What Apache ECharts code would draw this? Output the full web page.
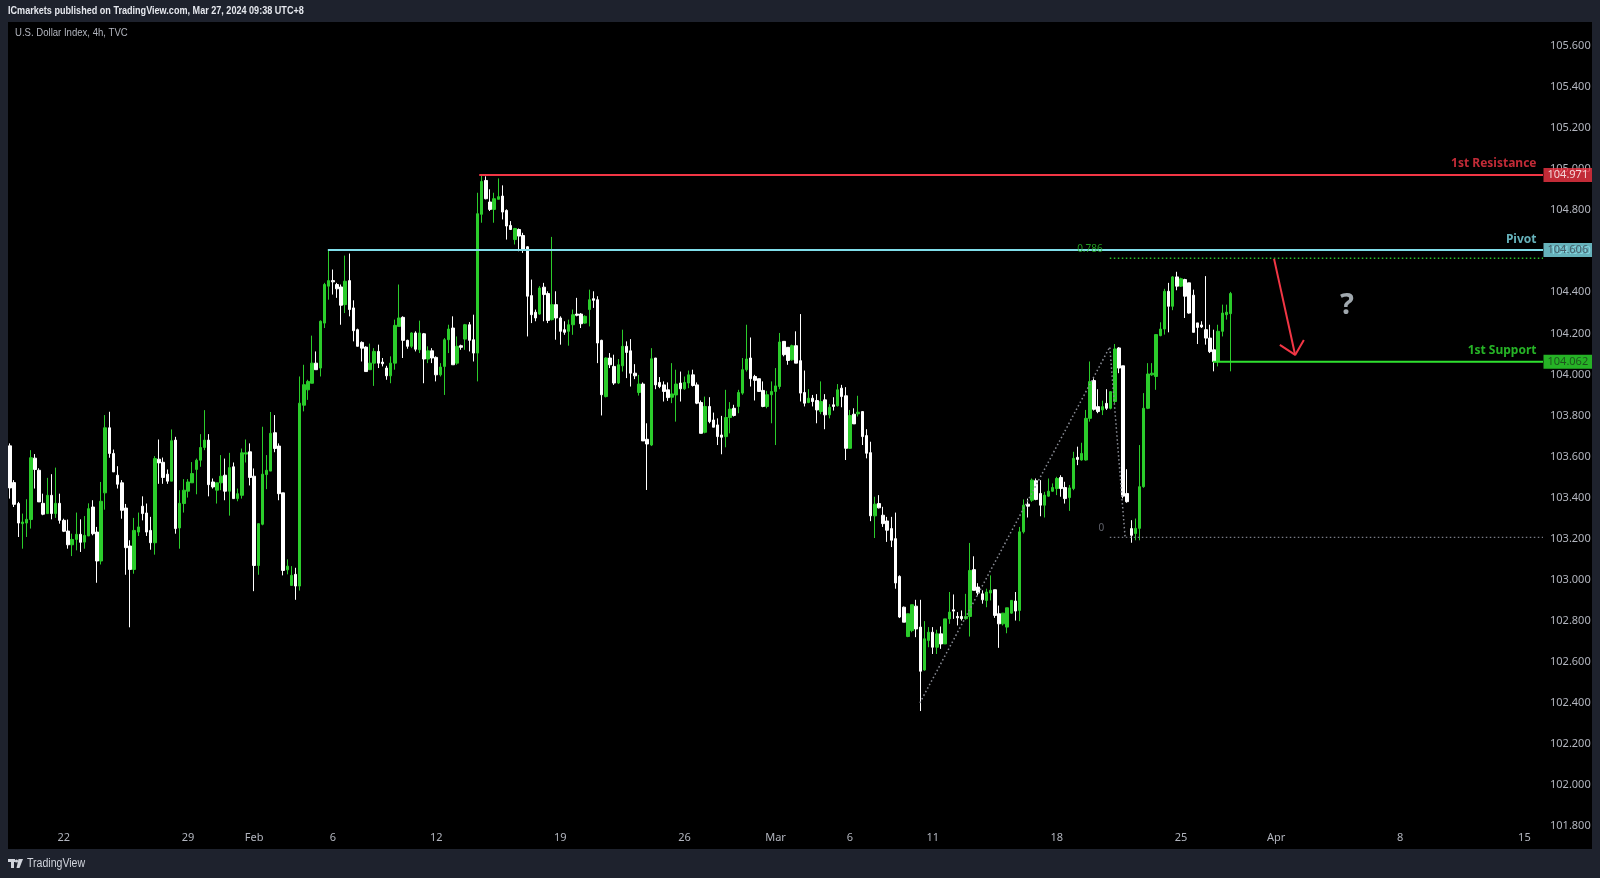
<!DOCTYPE html>
<html><head><meta charset="utf-8">
<script src="https://cdn.jsdelivr.net/npm/echarts@6/dist/echarts.min.js"></script>
<style>html,body{margin:0;padding:0;background:#1e222d}#c{width:1600px;height:878px}</style>
</head><body><div id="c"></div>
<script>
// ---- DATA (U.S. Dollar Index, 4h bars) ----
const open = [
103.652,103.473,103.371,103.273,103.276,103.293,103.592,103.533,103.372,103.322,
103.411,103.322,103.372,103.289,103.237,103.170,103.196,103.221,103.183,103.213,
103.354,103.232,103.091,103.423,103.740,103.615,103.509,103.472,103.349,103.164,
103.050,103.232,103.358,103.325,103.240,103.180,103.587,103.572,103.514,103.480,
103.680,103.252,103.371,103.431,103.472,
103.537,103.582,103.644,103.680,103.476,103.436,103.472,103.509,103.431,103.550,
103.395,103.411,103.612,103.623,103.504,103.069,103.270,103.512,103.529,103.716,
103.651,103.423,103.048,102.972,103.026,102.969,
103.850,103.925,103.957,104.055,104.031,104.250,104.430,104.457,
104.438,104.426,104.340,104.457,104.324,104.218,104.156,104.133,104.023,104.055,
104.112,104.060,104.031,103.993,104.055,104.234,104.278,104.166,104.137,104.202,
104.120,104.198,104.075,104.115,104.083,103.998,104.039,104.169,104.226,104.055,
104.140,104.172,104.242,104.169,104.104,
104.780,104.945,104.840,104.804,104.853,104.869,104.799,104.726,104.657,104.706,
104.677,104.622,104.384,104.303,104.294,104.425,104.394,104.267,104.340,
104.275,104.218,104.210,104.242,104.294,104.294,104.250,104.316,104.369,104.364,
104.166,103.892,104.080,104.039,103.958,104.042,104.137,104.115,104.006,103.912,
103.953,103.684,103.656,104.080,103.961,103.949,103.925,103.889,103.900,103.958,
103.930,103.958,103.998,103.949,103.863,103.718,103.844,
103.778,103.754,103.705,103.697,103.790,103.835,103.844,103.909,104.023,104.080,
103.990,103.979,103.922,103.844,103.901,103.917,103.941,104.161,104.132,104.071,
104.140,104.067,103.912,103.863,
103.884,103.873,103.819,103.876,103.803,
103.852,103.847,103.933,103.896,103.640,103.806,103.808,103.819,103.702,103.619,
103.311,103.371,103.314,103.286,103.249,103.200,103.016,102.866,102.723,102.752,
102.871,102.769,102.560,102.704,102.744,102.671,102.736,102.687,102.809,102.853,
102.821,102.821,102.810,102.821,103.049,102.964,102.931,102.899,102.935,102.951,
102.834,102.785,102.769,102.837,102.896,102.850,103.233,103.368,103.387,103.482,
103.420,103.363,103.407,103.431,103.444,103.498,103.449,103.400,103.444,103.596,
103.583,103.583,103.786,103.970,103.843,103.827,103.859,103.835,103.868,104.129,
104.042,103.420,103.249,103.225,103.250,103.453,103.835,103.998,103.990,104.189,
104.221,104.405,104.332,104.475,104.430,104.462,104.446,104.386,104.251,104.241,
104.218,104.177,104.120,104.063,104.210,104.291,104.296
];
const close = [
103.447,103.367,103.276,103.281,103.294,103.594,103.537,103.379,103.319,103.411,
103.322,103.372,103.289,103.236,103.170,103.196,103.221,103.182,103.216,103.346,
103.224,103.091,103.382,103.740,103.615,103.525,103.465,103.338,103.156,103.050,
103.240,103.257,103.322,103.232,103.180,103.590,103.569,103.498,103.480,103.677,
103.249,103.372,103.436,103.476,103.517,
103.582,103.644,103.680,103.463,103.452,103.472,103.504,103.431,103.546,103.395,
103.419,103.618,103.618,103.498,103.069,103.273,103.514,103.533,103.713,103.639,
103.419,103.045,103.066,103.021,102.969,103.860,
103.950,103.966,104.055,104.023,104.259,104.438,104.457,104.451,
104.417,104.337,104.454,104.316,104.213,104.137,104.128,104.014,104.055,104.112,
104.055,104.052,103.993,104.055,104.239,104.275,104.166,104.137,104.202,104.123,
104.202,104.075,104.115,104.080,103.998,104.036,104.169,104.221,104.047,104.137,
104.132,104.242,104.166,104.104,104.783,
104.940,104.856,104.804,104.856,104.866,104.791,104.723,104.706,104.711,104.674,
104.609,104.381,104.291,104.275,104.421,104.389,104.263,104.340,104.275,
104.210,104.205,104.242,104.291,104.288,104.247,104.283,104.364,104.361,104.153,
103.901,104.080,104.047,103.958,104.047,104.137,104.107,104.006,103.993,103.953,
103.676,103.661,104.076,103.949,103.941,103.917,103.887,103.905,103.953,103.930,
103.961,103.998,103.946,103.860,103.713,103.844,103.770,
103.743,103.697,103.694,103.790,103.831,103.800,103.912,104.023,104.075,103.979,
103.971,103.917,103.844,103.901,103.917,103.944,104.158,104.096,104.068,104.140,
104.055,103.909,103.860,103.884,
103.868,103.827,103.868,103.803,103.840,
103.844,103.925,103.892,103.640,103.800,103.759,103.816,103.697,103.616,103.311,
103.368,103.350,103.273,103.241,103.192,102.984,102.818,102.793,102.834,102.878,
102.760,102.554,102.712,102.744,102.671,102.736,102.687,102.809,102.842,102.847,
102.814,102.810,102.821,103.045,102.948,102.935,102.902,102.940,102.948,102.826,
102.785,102.837,102.863,102.899,102.847,103.233,103.363,103.358,103.485,103.391,
103.363,103.412,103.431,103.449,103.493,103.444,103.395,103.447,103.591,103.586,
103.615,103.786,103.965,103.830,103.819,103.843,103.835,103.916,104.124,104.031,
103.407,103.380,103.216,103.250,103.453,103.835,104.002,104.006,104.194,104.221,
104.405,104.332,104.475,104.430,104.466,104.381,104.299,104.205,104.229,104.231,
104.177,104.111,104.063,104.210,104.299,104.303,104.394
];
const low = [
103.395,103.354,103.208,103.151,103.208,103.249,103.444,103.379,103.314,103.322,
103.294,103.301,103.273,103.232,103.151,103.115,103.143,103.135,103.151,103.213,
103.216,102.985,103.074,103.341,103.594,103.525,103.444,103.297,103.024,102.768,
103.029,103.213,103.289,103.213,103.146,103.122,103.467,103.467,103.467,103.480,
103.224,103.151,103.327,103.400,103.472,
103.416,103.550,103.631,103.406,103.444,103.371,103.436,103.387,103.312,103.395,
103.382,103.395,103.571,103.459,102.944,103.024,103.265,103.441,103.529,103.621,
103.387,103.021,103.026,102.972,102.902,102.947,
103.820,103.876,103.957,104.023,103.990,104.226,104.364,104.389,
104.373,104.242,104.299,104.283,104.161,104.137,104.063,104.014,104.023,103.944,
104.031,104.039,103.974,103.957,104.023,104.234,104.080,104.125,104.128,104.112,
104.104,103.957,104.055,104.055,103.966,103.990,103.900,104.104,104.047,104.047,
104.120,104.120,104.112,104.063,103.966,
104.739,104.853,104.796,104.739,104.853,104.755,104.657,104.706,104.633,104.600,
104.592,104.185,104.250,104.259,104.291,104.259,104.250,104.263,104.169,
104.145,104.193,104.140,104.193,104.283,104.226,104.247,104.234,104.324,104.055,
103.800,103.888,104.031,103.949,103.953,104.014,103.982,103.941,103.977,103.897,
103.676,103.437,103.651,103.928,103.933,103.868,103.871,103.860,103.770,103.868,
103.925,103.933,103.941,103.855,103.713,103.713,103.762,
103.743,103.656,103.611,103.645,103.713,103.795,103.811,103.901,104.014,103.941,
103.873,103.917,103.840,103.835,103.762,103.656,103.928,104.088,104.047,104.067,
104.055,103.868,103.844,103.860,
103.844,103.762,103.806,103.733,103.786,
103.824,103.844,103.840,103.583,103.637,103.759,103.795,103.656,103.591,103.285,
103.203,103.347,103.257,103.184,103.159,102.956,102.813,102.793,102.720,102.744,
102.720,102.360,102.557,102.671,102.638,102.638,102.663,102.687,102.785,102.809,
102.777,102.801,102.805,102.723,102.948,102.923,102.883,102.866,102.899,102.814,
102.668,102.777,102.739,102.834,102.801,102.798,103.225,103.303,103.379,103.387,
103.309,103.303,103.404,103.428,103.412,103.404,103.371,103.335,103.436,103.558,
103.580,103.580,103.770,103.824,103.811,103.802,103.827,103.830,103.860,104.006,
103.396,103.375,103.180,103.192,103.192,103.448,103.831,103.993,103.925,104.186,
104.194,104.205,104.313,104.410,104.426,104.275,104.296,104.205,104.148,104.226,
104.145,104.104,104.015,104.039,104.185,104.267,104.015
];
const high = [
103.664,103.485,103.379,103.322,103.392,103.631,103.612,103.543,103.419,103.496,
103.514,103.546,103.419,103.297,103.293,103.224,103.327,103.294,103.310,103.372,
103.387,103.257,103.476,103.802,103.818,103.634,103.553,103.485,103.369,103.192,
103.301,103.327,103.406,103.371,103.306,103.602,103.683,103.595,103.537,103.732,
103.696,103.436,103.490,103.490,103.573,
103.590,103.709,103.826,103.709,103.493,103.472,103.607,103.590,103.618,103.571,
103.444,103.639,103.683,103.664,103.542,103.273,103.745,103.607,103.817,103.802,
103.664,103.423,103.099,103.066,103.058,103.990,
104.047,103.974,104.189,104.112,104.263,104.446,104.606,104.511,
104.446,104.438,104.579,104.589,104.361,104.223,104.161,104.137,104.150,104.128,
104.145,104.080,104.042,104.088,104.267,104.438,104.283,104.169,104.205,104.210,
104.262,104.202,104.137,104.128,104.088,104.055,104.177,104.242,104.283,104.185,
104.145,104.246,104.255,104.291,104.885,
104.971,104.965,104.902,104.885,104.955,104.921,104.804,104.747,104.714,104.711,
104.690,104.625,104.462,104.316,104.430,104.446,104.405,104.670,104.405,
104.283,104.259,104.267,104.316,104.373,104.299,104.288,104.413,104.405,104.381,
104.169,104.083,104.104,104.096,104.075,104.218,104.161,104.172,104.050,103.998,
103.961,103.762,104.128,104.080,103.987,103.966,103.961,104.055,104.023,104.014,
103.990,104.019,104.023,103.961,103.873,103.892,103.889,
103.814,103.786,103.798,103.925,103.865,103.852,103.925,104.080,104.242,104.180,
103.998,103.979,103.966,103.920,103.966,104.031,104.202,104.161,104.133,104.145,
104.210,104.294,104.019,103.928,
103.900,103.904,103.966,103.904,103.855,
103.889,103.953,103.949,103.938,103.827,103.835,103.896,103.819,103.733,103.672,
103.404,103.412,103.355,103.306,103.306,103.327,103.021,102.869,102.834,102.878,
102.902,102.902,102.798,102.769,102.769,102.756,102.772,102.809,102.940,102.928,
102.842,102.850,102.931,103.179,103.114,102.983,102.948,102.956,103.021,102.951,
102.874,102.837,102.863,102.899,102.940,103.257,103.391,103.395,103.493,103.493,
103.485,103.428,103.493,103.469,103.501,103.509,103.477,103.461,103.623,103.648,
103.667,103.827,104.063,103.981,103.928,103.872,103.928,103.916,104.148,104.133,
104.042,103.538,103.290,103.298,103.656,103.909,104.055,104.055,104.194,104.254,
104.417,104.446,104.479,104.500,104.471,104.466,104.446,104.413,104.251,104.259,
104.479,104.242,104.218,104.242,104.340,104.340,104.402
];

// time-axis tick labels (bar slot index -> text)
const tickIdx  = [13, 43, 59, 78, 103, 133, 163, 185, 203, 223, 253, 283, 306, 336, 366];
const tickText = ['22','29','Feb','6','12','19','26','Mar','6','11','18','25','Apr','8','15'];
const slotCount = 371;               // bars + empty future slots shown on the axis

// horizontal levels
const levelNames  = ['1st Resistance', 'Pivot', '1st Support'];
const levelPrices = [104.971, 104.606, 104.062];
const levelStart  = [113.4, 76.8, 290.7];   // bar index where each line begins

// fibonacci extension drawing
const fibLevels = [0.786, 0];
const fibPrices = [104.566, 103.206];
const fibStart  = 265.8;
const fibPathX  = [219.9, 265.8, 269.5];
const fibPathY  = [102.40, 104.134, 103.206];

// projected move arrow and question mark
const arrowX = [305.5, 310.6];
const arrowY = [104.563, 104.095];
const arrowHeadX = [306.9, 310.6, 312.7];
const arrowHeadY = [104.144, 104.095, 104.168];
const questionAt = [323.1, 104.334];

// ---- CHART ----
const candles = open.map((o, i) => {
  const c = close[i];
  return [o, c, Math.min(low[i], o, c), Math.max(high[i], o, c)];
});
const cats = Array.from({length: slotCount}, (_, i) => String(i));
const tickMap = new Map(tickIdx.map((k, j) => [k, tickText[j]]));
const rightEdge = slotCount - 0.5;

const RED = '#f23645', CYAN = '#80deea', GREEN = '#2fe02f';
const levelColors = [RED, CYAN, GREEN];
const boxText = ['#ffffff', '#3d4a55', '#1d3b1d'];
const FONT = '"Noto Sans", "Liberation Sans", sans-serif';

const series = [{
  type: 'candlestick',
  data: candles,
  barWidth: 3,
  z: 2,
  itemStyle: {
    color: '#2bcc2b', color0: '#ffffff',
    borderColor: '#2bcc2b', borderColor0: '#ffffff', borderWidth: 1
  }
}];

levelPrices.forEach((p, k) => {
  series.push({
    type: 'line', xAxisIndex: 1, symbol: 'none', silent: true, z: 4,
    data: [[levelStart[k], p], [rightEdge, p]],
    lineStyle: {color: levelColors[k], width: 2}
  });
});

// fib extension lines
series.push({
  type: 'line', xAxisIndex: 1, symbol: 'none', silent: true, z: 3,
  data: [[fibStart, fibPrices[0]], [rightEdge, fibPrices[0]]],
  lineStyle: {color: '#29c029', width: 1.5, type: [1.5, 2.5]}
});
series.push({
  type: 'line', xAxisIndex: 1, symbol: 'none', silent: true, z: 3,
  data: [[fibStart, fibPrices[1]], [rightEdge, fibPrices[1]]],
  lineStyle: {color: '#787b86', width: 1.2, type: [1.5, 2.5]}
});
series.push({
  type: 'line', xAxisIndex: 1, symbol: 'none', silent: true, z: 3,
  data: fibPathX.map((x, i) => [x, fibPathY[i]]),
  lineStyle: {color: '#8a8d96', width: 1.5, type: [1.5, 2.5]}
});

// arrow
series.push({
  type: 'line', xAxisIndex: 1, symbol: 'none', silent: true, z: 5,
  data: arrowX.map((x, i) => [x, arrowY[i]]),
  lineStyle: {color: RED, width: 2}
});
series.push({
  type: 'line', xAxisIndex: 1, symbol: 'none', silent: true, z: 5,
  data: arrowHeadX.map((x, i) => [x, arrowHeadY[i]]),
  lineStyle: {color: RED, width: 2}
});

// text labels (anchored in data space)
const labelData = [];
const nameAnchorX = 369.05;
const nameOffsetPrice = [0.055, 0.049, 0.053];
levelPrices.forEach((p, k) => {
  labelData.push({
    value: [nameAnchorX, p + nameOffsetPrice[k]],
    label: {show: true, position: 'left', distance: 0, formatter: levelNames[k],
            color: levelColors[k], fontSize: 12, fontWeight: 'bold', fontFamily: FONT}
  });
  labelData.push({
    value: [rightEdge, p],
    label: {show: true, position: 'right', distance: 0, formatter: p.toFixed(3),
            color: boxText[k], backgroundColor: levelColors[k], padding: [2, 4, 1, 4],
            fontSize: 11, fontFamily: FONT}
  });
});
labelData.push({
  value: [264.2, fibPrices[0] + 0.046],
  label: {show: true, position: 'left', distance: 0, formatter: fibLevels[0].toFixed(3),
          color: '#29c029', fontSize: 10, fontFamily: FONT}
});
labelData.push({
  value: [264.6, fibPrices[1] + 0.046],
  label: {show: true, position: 'left', distance: 0, formatter: String(fibLevels[1]),
          color: '#787b86', fontSize: 10, fontFamily: FONT}
});
labelData.push({
  value: questionAt,
  label: {show: true, position: 'inside', formatter: '?', color: '#c8d2da',
          fontSize: 29, fontWeight: 'bold', fontFamily: FONT}
});
series.push({
  type: 'scatter', xAxisIndex: 1, symbolSize: 1, clip: false, silent: true, z: 6,
  itemStyle: {color: 'rgba(0,0,0,0)'},
  data: labelData
});

const FRAME = '#1e222d';
const LOGO = '#d1d4dc';
const option = {
  backgroundColor: '#000000',
  animation: false,
  textStyle: {fontFamily: FONT},
  grid: {left: 8, right: 57, top: 46, bottom: 52},
  xAxis: [{
    type: 'category', data: cats, boundaryGap: true,
    axisLine: {show: false}, axisTick: {show: false}, splitLine: {show: false},
    axisLabel: {
      interval: (i) => tickMap.has(i),
      formatter: (v, i) => tickMap.get(i) || '',
      color: '#b2b5be', fontSize: 11, margin: 6, fontFamily: FONT
    }
  }, {
    type: 'value', min: -0.5, max: rightEdge, show: false
  }],
  yAxis: {
    type: 'value', position: 'right', min: 101.8, max: 105.6, interval: 0.2,
    axisLine: {show: false}, axisTick: {show: false}, splitLine: {show: false},
    axisLabel: {color: '#b2b5be', fontSize: 11, margin: 7, fontFamily: FONT,
                formatter: (v) => v.toFixed(3)}
  },
  series: series,
  graphic: [
    {type: 'rect', z: 100, shape: {x: 0, y: 0, width: 1600, height: 22}, style: {fill: FRAME}},
    {type: 'rect', z: 100, shape: {x: 0, y: 849, width: 1600, height: 29}, style: {fill: FRAME}},
    {type: 'rect', z: 100, shape: {x: 0, y: 0, width: 8, height: 878}, style: {fill: FRAME}},
    {type: 'rect', z: 100, shape: {x: 1592, y: 0, width: 8, height: 878}, style: {fill: FRAME}},
    {type: 'text', z: 101, x: 8, y: 11, scaleX: 0.825,
     style: {text: 'ICmarkets published on TradingView.com, Mar 27, 2024 09:38 UTC+8',
             fill: '#e6e8ee', font: 'bold 11px "Liberation Sans", sans-serif', verticalAlign: 'middle'}},
    {type: 'text', z: 101, x: 15, y: 33, scaleX: 0.87,
     style: {text: 'U.S. Dollar Index, 4h, TVC', fill: '#b2b5be',
             font: '11px "Liberation Sans", sans-serif', verticalAlign: 'middle'}},
    // TradingView logo mark
    {type: 'rect', z: 101, shape: {x: 8, y: 859, width: 7, height: 3}, style: {fill: LOGO}},
    {type: 'rect', z: 101, shape: {x: 11, y: 859, width: 3, height: 9}, style: {fill: LOGO}},
    {type: 'circle', z: 101, shape: {cx: 16.5, cy: 861, r: 1.6}, style: {fill: LOGO}},
    {type: 'polygon', z: 101, shape: {points: [[18.5, 859], [23, 859], [19.5, 868], [16.5, 868]]}, style: {fill: LOGO}},
    {type: 'text', z: 101, x: 27, y: 864, scaleX: 0.88,
     style: {text: 'TradingView', fill: LOGO, font: '12px "Liberation Sans", sans-serif', verticalAlign: 'middle'}}
  ]
};

const chart = echarts.init(document.getElementById('c'), null, {renderer: 'canvas', devicePixelRatio: 1});
chart.setOption(option);
</script>
</body></html>
